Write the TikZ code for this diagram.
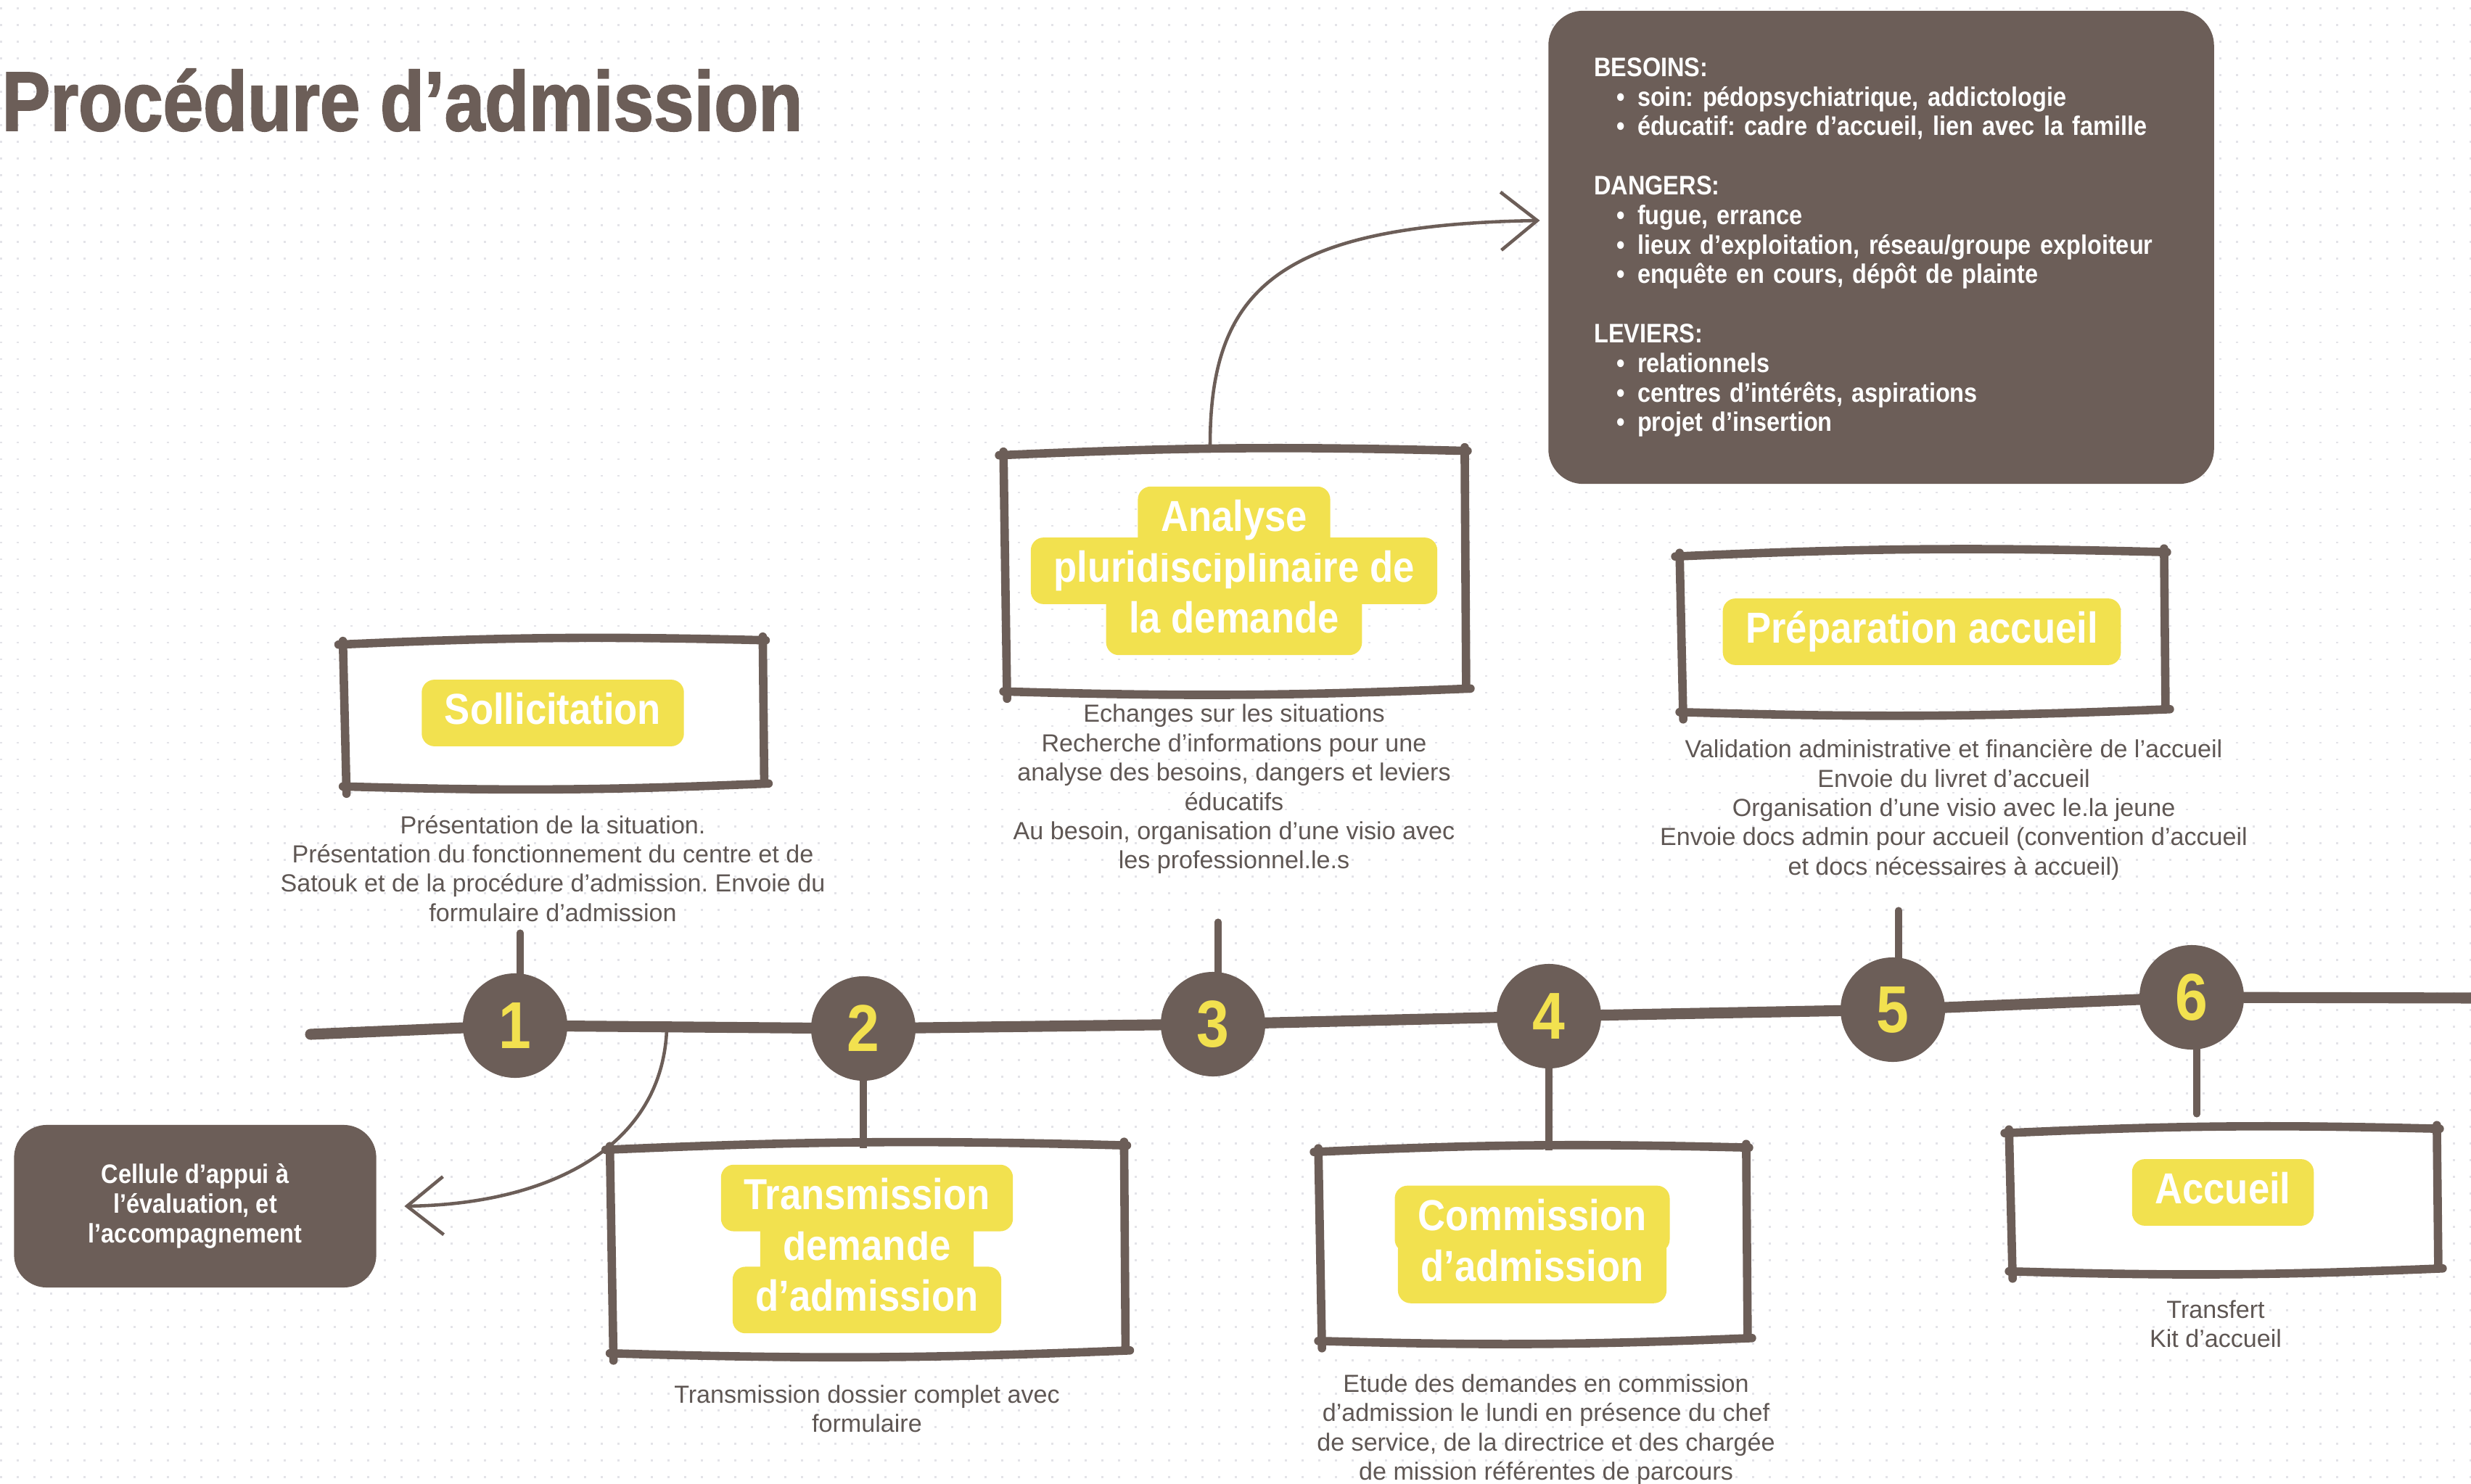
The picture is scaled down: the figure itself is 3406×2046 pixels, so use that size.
\documentclass[tikz,border=0pt]{standalone}
\usepackage{fontspec}
\setmainfont{Liberation Sans}
\newfontfamily\labelfont[FakeStretch=0.88]{Liberation Sans}
\newfontfamily\titlefont[FakeStretch=0.86,FakeBold=1.6]{Liberation Sans Bold}
\usepackage{tikz}
\usetikzlibrary{arrows.meta}
\usepackage{xcolor}
\usetikzlibrary{positioning,backgrounds}
\frenchspacing

\definecolor{darkbrown}{HTML}{6C5E58}
\definecolor{tagyellow}{HTML}{F2E14F}
\definecolor{bodygray}{HTML}{5F5754}
\definecolor{dotgray}{HTML}{E3E3E8}

\tikzset{
  sketch/.style={draw=darkbrown, line width=3.3pt, line cap=round},
  box/.style={inner sep=0pt},
  tag/.style={fill=tagyellow, text=white, rounded corners=5pt,
    font=\labelfont\bfseries\fontsize{17}{19}\selectfont,
    text height=12.5pt, text depth=3.6pt, inner xsep=9pt, inner ysep=5pt},
  stepnum/.style={circle, fill=darkbrown, minimum size=1.44cm, inner sep=0pt,
    text=tagyellow, font=\labelfont\bfseries\fontsize{26}{28}\selectfont},
  desc/.style={align=center, inner sep=0pt, text=bodygray,
    font=\fontsize{9.7}{11.5}\selectfont},
  darkbox/.style={fill=darkbrown, rounded corners=0.45cm, text=white,
    font=\labelfont\bfseries\fontsize{10.5}{11.6}\selectfont},
  timeline/.style={draw=darkbrown, line width=4.3pt, line cap=round},
  stem/.style={draw=darkbrown, line width=2.6pt, line cap=round},
  curvedarrow/.style={draw=darkbrown, line width=1.3pt,
    -{Straight Barb[length=5mm,width=8mm]}},
}

% hand drawn frame round a box node
\newcommand{\roughbox}[1]{%
  \draw[sketch] ([shift={(-8,3)}]#1.north west) to[bend left=2] ([shift={(6,-3)}]#1.north east);
  \draw[sketch] ([shift={(2,-8)}]#1.north east) -- ([shift={(4,-4)}]#1.south east);
  \draw[sketch] ([shift={(10,0)}]#1.south east) to[bend left=2] ([shift={(-2,4)}]#1.south west);
  \draw[sketch] ([shift={(3,14)}]#1.south west) -- ([shift={(-2,-2)}]#1.north west);
}
\newcommand{\bul}[1]{\hspace*{9pt}\makebox[8pt][l]{\textbullet}#1}

\begin{document}
\begin{tikzpicture}[x=0.01cm, y=-0.01cm]
  \useasboundingbox (0,0) rectangle (3406,2046);
  % dotted paper
  \begin{scope}[on background layer]
    \foreach \gy in {12,35,...,2046}
      \draw[dotgray, line width=0.85pt, dash pattern=on 0.85pt off 5.69pt] (0,\gy) -- (3406,\gy);
  \end{scope}

  \node[anchor=base west, inner sep=0pt, text=darkbrown,
    font=\titlefont\fontsize{33}{36}\selectfont] (title) at (2,180) {Procédure d’admission};

  % frames
  \node[box, minimum width=5.73cm, minimum height=1.93cm, fill=white] (sollic) at (762,983) {};
  \node[box, minimum width=7.03cm, minimum height=2.78cm, fill=white] (transm) at (1195,1722) {};
  \node[box, minimum width=6.30cm, minimum height=3.23cm] (analyse) at (1701,787) {};
  \node[box, minimum width=5.84cm, minimum height=2.58cm, fill=white] (commis) at (2112,1715) {};
  \node[box, minimum width=6.62cm, minimum height=2.12cm] (prepa) at (2649,871) {};
  \node[box, minimum width=5.84cm, minimum height=1.88cm, fill=white] (accueil) at (3064,1654) {};
  \roughbox{sollic}
  \roughbox{transm}
  \roughbox{analyse}
  \roughbox{commis}
  \roughbox{prepa}
  \roughbox{accueil}

  % yellow labels
  \node[tag] (soltag) at (sollic) {Sollicitation};
  \node[tag] (trtag2) at (transm) {demande};
  \node[tag, above=-6.5pt of trtag2] (trtag1) {Transmission};
  \node[tag, below=-6.5pt of trtag2] (trtag3) {d’admission};
  \node[tag] (antag2) at (analyse) {pluridisciplinaire de};
  \node[tag, above=-6.5pt of antag2] (antag1) {Analyse};
  \node[tag, below=-6.5pt of antag2] (antag3) {la demande};
  \node[tag] (cotag1) at ([yshift=9.8pt]commis.center) {Commission};
  \node[tag, below=-6.5pt of cotag1] (cotag2) {d’admission};
  \node[tag] (prtag) at (prepa) {Préparation accueil};
  \node[tag] (actag) at ([yshift=0.1cm]accueil.center) {Accueil};

  % texts under the frames
  \node[desc, below=0.43cm of sollic] (soltxt) {Présentation de la situation.\\Présentation du fonctionnement du centre et de\\Satouk et de la procédure d’admission. Envoie du\\formulaire d’admission};
  \node[desc, below=0.21cm of analyse] (antxt) {Echanges sur les situations\\Recherche d’informations pour une\\analyse des besoins, dangers et leviers\\éducatifs\\Au besoin, organisation d’une visio avec\\les professionnel.le.s};
  \node[desc, below=0.41cm of prepa, xshift=0.44cm] (prtxt) {Validation administrative et financière de l’accueil\\Envoie du livret d’accueil\\Organisation d’une visio avec le.la jeune\\Envoie docs admin pour accueil (convention d’accueil\\et docs nécessaires à accueil)};
  \node[desc, below=0.47cm of transm] (trtxt) {Transmission dossier complet avec\\formulaire};
  \node[desc, below=0.49cm of commis, xshift=0.19cm] (cotxt) {Etude des demandes en commission\\d’admission le lundi en présence du chef\\de service, de la directrice et des chargée\\de mission référentes de parcours};
  \node[desc, below=0.43cm of accueil, xshift=-0.1cm] (actxt) {Transfert\\Kit d’accueil};

  % steps
  \node[stepnum] (n1) at (710,1414) {1};
  \node[stepnum] (n2) at (1190,1418) {2};
  \node[stepnum] (n3) at (1672,1412) {3};
  \node[stepnum] (n4) at (2135,1401) {4};
  \node[stepnum] (n5) at (2609,1392) {5};
  \node[stepnum] (n6) at (3021,1375) {6};

  \coordinate (tl0) at (428,1426);
  \coordinate (tl1) at (3420,1376);
  \coordinate (s1) at (717,1286);
  \coordinate (s3) at (1679,1271);
  \coordinate (s5) at (2617,1255);
  \coordinate (s6) at (3028,1536);
  \begin{scope}[on background layer]
    \draw[timeline] (tl0) -- (n1.center) -- (n2.center) -- (n3.center) -- (n4.center)
      -- (n5.center) -- (n6.center) -- (tl1);
    \draw[stem] (s1) -- (s1 |- n1.center);
    \draw[stem] (n2.center) -- (n2 |- transm.north);
    \draw[stem] (s3) -- (s3 |- n3.center);
    \draw[stem] (n4.center) -- (n4 |- commis.north);
    \draw[stem] (s5) -- (s5 |- n5.center);
    \draw[stem] (s6 |- n6.center) -- (s6);
  \end{scope}

  % side boxes
  \node[darkbox, minimum width=4.99cm, minimum height=2.24cm, align=center] (cellule) at (269,1663)
    {Cellule d’appui à\\l’évaluation, et\\l’accompagnement};
  \node[darkbox, rounded corners=0.48cm, minimum width=9.17cm, minimum height=6.52cm,
    text width=7.91cm, inner xsep=0.63cm, align=left] (infos) at (2593,341)
    {BESOINS:\\
     \bul{soin: pédopsychiatrique, addictologie}\\
     \bul{éducatif: cadre d’accueil, lien avec la famille}\\[11.6pt]
     DANGERS:\\
     \bul{fugue, errance}\\
     \bul{lieux d’exploitation, réseau/groupe exploiteur}\\
     \bul{enquête en cours, dépôt de plainte}\\[11.6pt]
     LEVIERS:\\
     \bul{relationnels}\\
     \bul{centres d’intérêts, aspirations}\\
     \bul{projet d’insertion}};

  \coordinate (ca) at (919,1420);
  \draw[curvedarrow] (ca) .. controls (912,1580) and (760,1660) .. ([xshift=0.38cm]cellule.east);
  \draw[curvedarrow] ([shift={(-33,-11)}]analyse.north) .. controls (1668,400) and (1760,310)
    .. ([shift={(-11,-37)}]infos.west);
\end{tikzpicture}
\end{document}
